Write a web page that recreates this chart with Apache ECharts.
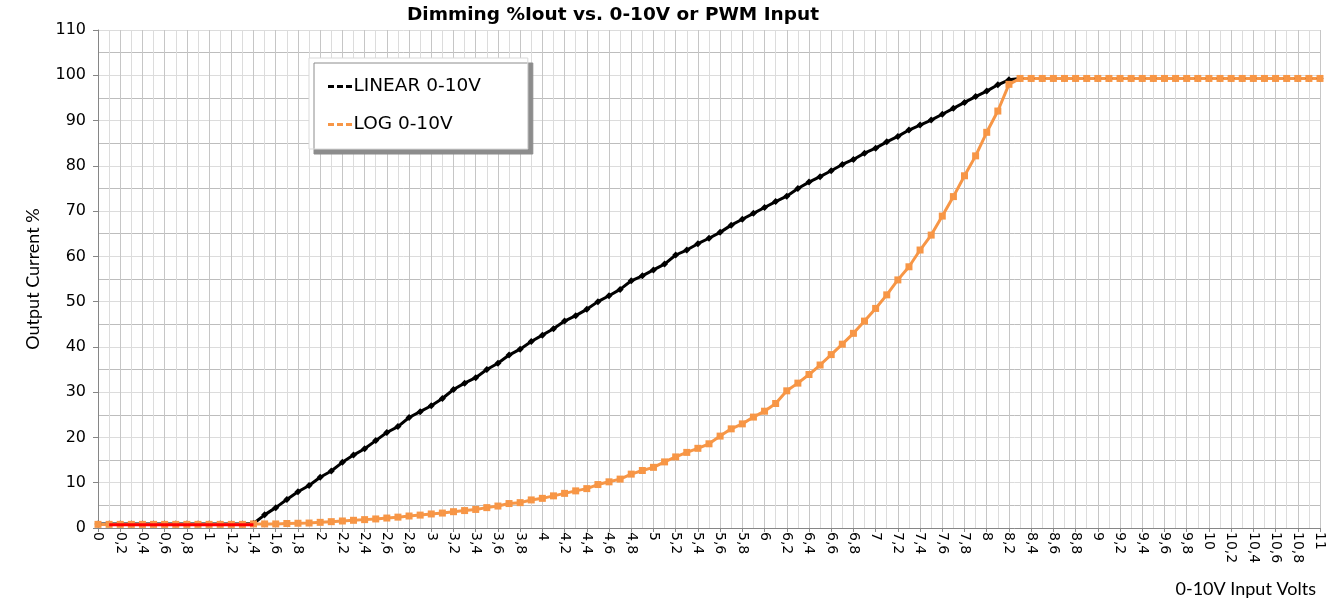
<!DOCTYPE html>
<html lang="en">
<head>
    <meta charset="UTF-8">
    <title>Dimming %Iout vs. 0-10V or PWM Input</title>
    <script src="https://cdn.jsdelivr.net/npm/echarts@6/dist/echarts.min.js"></script>
</head>
<body style="margin: 0; background-color: #FFFFFF">
<div id="container" style="width: 1340px; height: 602px"></div>
<script type="text/javascript">
    // input volts, one category per 0.1 V
    let volts = [
        '0', '0.1', '0.2', '0.3', '0.4', '0.5', '0.6', '0.7', '0.8', '0.9',
        '1', '1.1', '1.2', '1.3', '1.4', '1.5', '1.6', '1.7', '1.8', '1.9',
        '2', '2.1', '2.2', '2.3', '2.4', '2.5', '2.6', '2.7', '2.8', '2.9',
        '3', '3.1', '3.2', '3.3', '3.4', '3.5', '3.6', '3.7', '3.8', '3.9',
        '4', '4.1', '4.2', '4.3', '4.4', '4.5', '4.6', '4.7', '4.8', '4.9',
        '5', '5.1', '5.2', '5.3', '5.4', '5.5', '5.6', '5.7', '5.8', '5.9',
        '6', '6.1', '6.2', '6.3', '6.4', '6.5', '6.6', '6.7', '6.8', '6.9',
        '7', '7.1', '7.2', '7.3', '7.4', '7.5', '7.6', '7.7', '7.8', '7.9',
        '8', '8.1', '8.2', '8.3', '8.4', '8.5', '8.6', '8.7', '8.8', '8.9',
        '9', '9.1', '9.2', '9.3', '9.4', '9.5', '9.6', '9.7', '9.8', '9.9',
        '10', '10.1', '10.2', '10.3', '10.4', '10.5', '10.6', '10.7', '10.8', '10.9',
        '11'
    ];
    // LINEAR 0-10V
    let linear = [
        0.9, 0.9, 0.9, 0.9, 0.9, 0.9, 0.9, 0.9, 0.9, 0.9,
        0.9, 0.9, 0.9, 0.9, 1.0, 2.9, 4.5, 6.3, 8.0, 9.4,
        11.2, 12.6, 14.5, 16.1, 17.5, 19.3, 21.1, 22.4, 24.4, 25.7,
        27.0, 28.6, 30.6, 32.0, 33.2, 35.0, 36.4, 38.2, 39.5, 41.2,
        42.6, 44.0, 45.7, 46.9, 48.3, 50.0, 51.3, 52.7, 54.6, 55.7,
        57.0, 58.3, 60.3, 61.4, 62.8, 64.0, 65.3, 66.9, 68.2, 69.5,
        70.8, 72.1, 73.3, 75.0, 76.4, 77.6, 78.9, 80.3, 81.4, 82.8,
        83.9, 85.3, 86.5, 87.9, 89.0, 90.1, 91.4, 92.7, 94.0, 95.3,
        96.5, 97.9, 99.0, 99.3, 99.3, 99.3, 99.3, 99.3, 99.3, 99.3,
        99.3, 99.3, 99.3, 99.3, 99.3, 99.3, 99.3, 99.3, 99.3, 99.3,
        99.3, 99.3, 99.3, 99.3, 99.3, 99.3, 99.3, 99.3, 99.3, 99.3,
        99.3
    ];
    // LOG 0-10V
    let logCurve = [
        0.8, 0.8, 0.8, 0.8, 0.8, 0.8, 0.8, 0.8, 0.8, 0.8,
        0.8, 0.8, 0.8, 0.8, 0.9, 0.9, 0.9, 1.0, 1.05, 1.1,
        1.25, 1.4, 1.55, 1.7, 1.85, 2.0, 2.2, 2.4, 2.65, 2.85,
        3.1, 3.3, 3.6, 3.85, 4.1, 4.5, 4.85, 5.4, 5.6, 6.2,
        6.55, 7.1, 7.65, 8.2, 8.7, 9.6, 10.2, 10.8, 11.9, 12.7,
        13.4, 14.6, 15.7, 16.7, 17.6, 18.6, 20.3, 21.9, 23.0, 24.5,
        25.8, 27.5, 30.3, 32.0, 33.9, 36.0, 38.3, 40.6, 43.0, 45.7,
        48.5, 51.5, 54.8, 57.7, 61.4, 64.7, 68.9, 73.2, 77.8, 82.2,
        87.4, 92.1, 98.0, 99.3, 99.3, 99.3, 99.3, 99.3, 99.3, 99.3,
        99.3, 99.3, 99.3, 99.3, 99.3, 99.3, 99.3, 99.3, 99.3, 99.3,
        99.3, 99.3, 99.3, 99.3, 99.3, 99.3, 99.3, 99.3, 99.3, 99.3,
        99.3
    ];
    // red segment along the floor (0.1 V .. 1.4 V)
    let floorLine = [
        null, 0.7, 0.7, 0.7, 0.7, 0.7, 0.7, 0.7, 0.7, 0.7,
        0.7, 0.7, 0.7, 0.7, 0.7
    ];
    let yTicks = [0, 110, 10];

    let dom = document.getElementById("container");
    let myChart = echarts.init(dom);
    let font = "'DejaVu Sans', sans-serif";
    let nameFont = "Lato, sans-serif";
    let dashIcon = 'path://M0,0h6v3h-6z M9,0h6v3h-6z M18,0h6v3h-6z';

    let option = {
        animation: false,
        backgroundColor: '#FFFFFF',
        textStyle: {fontFamily: font, color: '#000000'},
        title: {
            text: 'Dimming %Iout vs. 0-10V or PWM Input',
            left: 402,
            top: 1,
            textStyle: {fontFamily: font, fontSize: 18.5, fontWeight: 'bold', color: '#000000'}
        },
        legend: {
            orient: 'vertical',
            left: 309,
            top: 58,
            padding: [19, 47, 15, 19],
            itemGap: 19,
            itemWidth: 25,
            itemHeight: 3,
            backgroundColor: '#FFFFFF',
            borderColor: '#D9D9D9',
            borderWidth: 1,
            shadowColor: '#8C8C8C',
            shadowBlur: 0,
            shadowOffsetX: 5,
            shadowOffsetY: 5,
            textStyle: {fontFamily: font, fontSize: 18.5, color: '#000000', padding: [0, 0, 0, -4]},
            data: [
                {name: 'LINEAR 0-10V', icon: dashIcon},
                {name: 'LOG 0-10V', icon: dashIcon}
            ]
        },
        grid: {
            left: 98,
            right: 20,
            top: 30,
            bottom: 74,
            containLabel: false,
            outerBoundsMode: 'none'
        },
        xAxis: {
            type: 'category',
            data: volts,
            boundaryGap: false,
            name: '0-10V Input Volts',
            nameLocation: 'end',
            nameGap: -4,
            nameTextStyle: {
                fontFamily: nameFont,
                fontSize: 18,
                color: '#000000',
                align: 'right',
                verticalAlign: 'top',
                padding: [52, 0, 0, 0]
            },
            axisLine: {lineStyle: {color: '#868686', width: 1}},
            axisTick: {show: true, interval: 1, length: 4, lineStyle: {color: '#868686'}},
            axisLabel: {
                interval: 1,
                rotate: -90,
                margin: 4,
                fontSize: 14,
                color: '#000000',
                formatter: function (v) {
                    return v.replace('.', ',');
                }
            },
            splitLine: {
                show: true,
                interval: 0,
                lineStyle: {color: ['#C6C6C6', '#DCDCDC'], width: 1}
            }
        },
        yAxis: {
            type: 'value',
            min: yTicks[0],
            max: yTicks[1],
            interval: yTicks[2],
            name: 'Output Current %',
            nameLocation: 'middle',
            nameGap: 56,
            nameTextStyle: {fontFamily: nameFont, fontSize: 18, color: '#000000'},
            axisLine: {show: true, lineStyle: {color: '#868686', width: 1}},
            axisTick: {show: true, length: 5, lineStyle: {color: '#868686'}},
            axisLabel: {fontSize: 16, margin: 12, color: '#000000'},
            splitLine: {show: true, lineStyle: {color: '#DCDCDC', width: 1}},
            minorTick: {show: false, splitNumber: 2},
            minorSplitLine: {show: true, lineStyle: {color: '#BDBDBD', width: 1}}
        },
        series: [
            {
                name: 'LINEAR 0-10V',
                type: 'line',
                data: linear,
                symbol: 'diamond',
                symbolSize: 7,
                showAllSymbol: true,
                itemStyle: {color: '#000000'},
                lineStyle: {color: '#000000', width: 3}
            },
            {
                name: 'LOG 0-10V',
                type: 'line',
                data: logCurve,
                symbol: 'rect',
                symbolSize: 7,
                showAllSymbol: true,
                itemStyle: {color: '#F79646'},
                lineStyle: {color: '#F79646', width: 3}
            },
            {
                name: 'floor',
                type: 'line',
                z: 5,
                data: floorLine,
                symbol: 'none',
                itemStyle: {color: '#FF0000'},
                lineStyle: {color: '#FF0000', width: 3}
            }
        ]
    };
    myChart.setOption(option, true);
</script>
</body>
</html>
